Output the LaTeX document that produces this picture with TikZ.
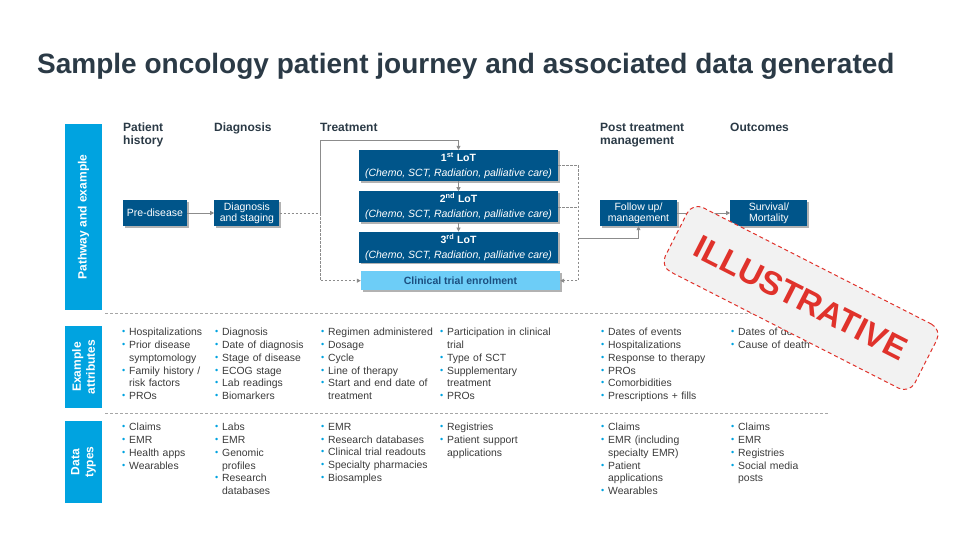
\documentclass[tikz,border=0pt]{standalone}
\usepackage{fontspec}
\setmainfont{Liberation Sans}
\usetikzlibrary{positioning, arrows.meta, shadows, calc}

\definecolor{navy}{HTML}{00558A}
\definecolor{cyanbar}{HTML}{00A3E0}
\definecolor{skyfill}{HTML}{6DCDF7}
\definecolor{trialtext}{HTML}{1B4F80}
\definecolor{titlecol}{HTML}{2B3A46}
\definecolor{bodytext}{HTML}{3A3A3A}
\definecolor{linegray}{HTML}{8C8C8C}
\definecolor{stampred}{HTML}{E0322B}

% one bullet line of a column
\newcommand{\itm}[1]{\hangindent=7pt\hangafter=1\noindent\hbox to 7pt{\color{cyanbar}\raisebox{1pt}{\fontsize{9}{9}\selectfont •}\hss}#1\par}

\begin{document}
\begin{tikzpicture}[x=1pt, y=-1pt,
    every node/.style={inner sep=0pt, font=\fontsize{10.5}{11}\selectfont},
    bar/.style={fill=cyanbar, text=white, align=center, minimum height=37pt,
      font=\fontsize{12}{14}\selectfont\bfseries},
    head/.style={anchor=north west, align=left, text=titlecol,
      font=\fontsize{12}{13}\selectfont\bfseries},
    darkbox/.style={fill=navy, text=white, align=center, minimum height=26pt,
      drop shadow={shadow xshift=1.5pt, shadow yshift=-1.5pt, opacity=0.3, fill=black}},
    lotbox/.style={darkbox, minimum width=199pt, minimum height=31pt,
      font=\fontsize{10.5}{15}\selectfont},
    trialbox/.style={darkbox, fill=skyfill, text=trialtext, minimum width=199pt,
      minimum height=19pt, font=\fontsize{10.5}{11}\selectfont\bfseries},
    list/.style={anchor=north west, text width=125pt, align=left, text=bodytext,
      font=\fontsize{10.4}{12.8}\selectfont},
    wire/.style={draw=linegray, line width=0.75pt},
    dwire/.style={wire, dash pattern=on 2.5pt off 1.5pt},
    tip/.style={-{Triangle[length=4pt, width=4pt]}},
    sep/.style={draw=gray!70, line width=0.6pt, dash pattern=on 3pt off 2pt},
    stamp/.style={fill=gray!10, draw=stampred, line width=1pt, dash pattern=on 4pt off 3pt,
      rounded corners=12pt, minimum width=280pt, minimum height=72pt, text=stampred,
      font=\fontsize{33}{33}\selectfont\bfseries}]
  \useasboundingbox (0,0) rectangle (960,540);

  \node[anchor=base west, text=titlecol, font=\fontsize{28}{30}\selectfont\bfseries]
    (title) at (37,74) {Sample oncology patient journey and associated data generated};

  % side bars
  \node[bar, rotate=90, minimum width=186pt] (barpath) at (83.5,217) {Pathway and example};
  \node[bar, rotate=90, minimum width=82pt] (barattr) at (83.5,367) {Example\\attributes};
  \node[bar, rotate=90, minimum width=82pt] (bardata) at (83.5,462) {Data\\types};

  % stage headings
  \node[head] (hpat) at (123,123) {Patient\\history};
  \node[head] (hdiag) at (214,123) {Diagnosis};
  \node[head] (htreat) at (320,123) {Treatment};
  \node[head] (hpost) at (600,123) {Post treatment\\management};
  \node[head] (hout) at (730,123) {Outcomes};

  % pathway
  \node[darkbox, minimum width=64pt] (pre) at (155,213) {Pre-disease};
  \node[darkbox, minimum width=65pt, right=27pt of pre] (diag) {Diagnosis\\and staging};
  \node[lotbox] (lot1) at (458.5,165.5) {\textbf{1\textsuperscript{st} LoT}\\\textit{(Chemo, SCT, Radiation, palliative care)}};
  \node[lotbox, below=10pt of lot1] (lot2) {\textbf{2\textsuperscript{nd} LoT}\\\textit{(Chemo, SCT, Radiation, palliative care)}};
  \node[lotbox, below=9pt of lot2] (lot3) {\textbf{3\textsuperscript{rd} LoT}\\\textit{(Chemo, SCT, Radiation, palliative care)}};
  \node[trialbox, below=8pt of lot3, xshift=2pt] (trial) {Clinical trial enrolment};
  \node[darkbox, minimum width=77pt] (follow) at (638.5,213) {Follow up/\\management};
  \node[darkbox, minimum width=77pt, right=53pt of follow] (surv) {Survival/\\Mortality};

  \draw[wire, tip] (pre) -- (diag);
  \coordinate[right=41pt of diag.east] (split);
  \coordinate[above=9pt of lot1.north] (lotin);
  \draw[dwire] (diag) -- (split);
  \draw[wire, tip] (split) |- (lotin) -- (lot1);
  \draw[dwire, tip] (split) |- (trial);
  \draw[wire, tip] (lot1) -- (lot2);
  \draw[wire, tip] (lot2) -- (lot3);
  \coordinate[right=20pt of lot1.east] (rside);
  \draw[dwire, tip] (lot1) -- (rside) |- (trial);
  \draw[dwire] (lot2) -- (lot2 -| rside);
  \coordinate (lotout) at ($(rside |- lot3.north) + (0,7)$);
  \draw[wire, tip] (lotout) -| (follow);
  \draw[wire, tip] (follow) -- (surv);

  \draw[sep] (105,313) -- (830,313);
  \draw[sep] (105,413) -- (828,413);

  % example attributes
  \node[list] (apat) at (122,328) {\itm{Hospitalizations}\itm{Prior disease\newline symptomology}\itm{Family history /\newline risk factors}\itm{PROs}};
  \node[list] (adiag) at (215,328) {\itm{Diagnosis}\itm{Date of diagnosis}\itm{Stage of disease}\itm{ECOG stage}\itm{Lab readings}\itm{Biomarkers}};
  \node[list] (atreat) at (321,328) {\itm{Regimen administered}\itm{Dosage}\itm{Cycle}\itm{Line of therapy}\itm{Start and end date of\newline treatment}};
  \node[list] (atrial) at (440,328) {\itm{Participation in clinical\newline trial}\itm{Type of SCT}\itm{Supplementary\newline treatment}\itm{PROs}};
  \node[list] (apost) at (601,328) {\itm{Dates of events}\itm{Hospitalizations}\itm{Response to therapy}\itm{PROs}\itm{Comorbidities}\itm{Prescriptions + fills}};
  \node[list] (aout) at (731,328) {\itm{Dates of death}\itm{Cause of death}};

  % data types
  \node[list] (dpat) at (122,423) {\itm{Claims}\itm{EMR}\itm{Health apps}\itm{Wearables}};
  \node[list] (ddiag) at (215,423) {\itm{Labs}\itm{EMR}\itm{Genomic\newline profiles}\itm{Research\newline databases}};
  \node[list] (dtreat) at (321,423) {\itm{EMR}\itm{Research databases}\itm{Clinical trial readouts}\itm{Specialty pharmacies}\itm{Biosamples}};
  \node[list] (dtrial) at (440,423) {\itm{Registries}\itm{Patient support\newline applications}};
  \node[list] (dpost) at (601,423) {\itm{Claims}\itm{EMR (including\newline specialty EMR)}\itm{Patient\newline applications}\itm{Wearables}};
  \node[list] (dout) at (731,423) {\itm{Claims}\itm{EMR}\itm{Registries}\itm{Social media\newline posts}};

  \node[stamp, rotate=-27] (stampbox) at (801,298) {ILLUSTRATIVE};
\end{tikzpicture}
\end{document}
